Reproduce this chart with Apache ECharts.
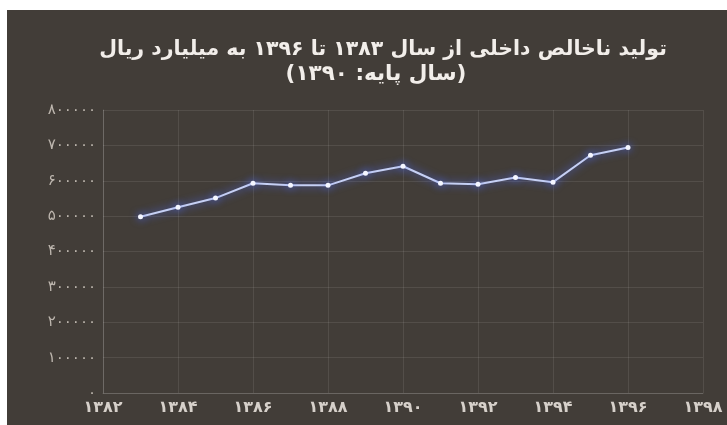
<!DOCTYPE html>
<html><head><meta charset="utf-8">
<script src="https://cdn.jsdelivr.net/npm/echarts@6/dist/echarts.min.js"></script>
<style>
html,body{margin:0;padding:0;background:#ffffff;width:727px;height:425px;overflow:hidden;}
#bg{position:absolute;left:7px;top:10px;width:720px;height:415px;background:#423d38;}
#chart{position:absolute;left:0;top:0;width:727px;height:425px;}
</style>
</head><body>
<div id="bg"></div><div id="chart"></div>
<script>
// Data
const years = [1383, 1384, 1385, 1386, 1387, 1388, 1389, 1390, 1391, 1392, 1393, 1394, 1395, 1396];
const gdp = [498000, 525000, 551000, 593000, 587000, 587000, 621000, 641000, 593000, 590000, 609000, 596000, 672000, 694000];
const xTickValues = [1382, 1384, 1386, 1388, 1390, 1392, 1394, 1396, 1398];
const xTickLabels = ['۱۳۸۲', '۱۳۸۴', '۱۳۸۶', '۱۳۸۸', '۱۳۹۰', '۱۳۹۲', '۱۳۹۴', '۱۳۹۶', '۱۳۹۸'];
const yTickValues = [0, 100000, 200000, 300000, 400000, 500000, 600000, 700000, 800000];
const yTickLabels = ['۰', '۱۰۰۰۰۰', '۲۰۰۰۰۰', '۳۰۰۰۰۰', '۴۰۰۰۰۰', '۵۰۰۰۰۰', '۶۰۰۰۰۰', '۷۰۰۰۰۰', '۸۰۰۰۰۰'];
const titleLine1 = 'تولید ناخالص داخلی از سال ۱۳۸۳ تا ۱۳۹۶ به میلیارد ریال';
const titleLine2 = '(سال پایه: ۱۳۹۰)';

const FONT = 'DejaVu Sans';
const chart = echarts.init(document.getElementById('chart'), null, {renderer: 'canvas'});
chart.setOption({
  backgroundColor: 'transparent',
  animation: false,
  title: [
    {text: titleLine1, left: 378, top: 34, textAlign: 'center',
     textStyle: {color: '#f2eeea', fontSize: 20.5, fontWeight: 'bold', fontFamily: FONT}},
    {text: titleLine2, left: 371, top: 58, textAlign: 'center',
     textStyle: {color: '#f2eeea', fontSize: 21.5, fontWeight: 'bold', fontFamily: FONT}}
  ],
  grid: {left: 103, right: 24, top: 110, bottom: 32, containLabel: false},
  xAxis: {
    type: 'value', min: 1382, max: 1398, interval: 2,
    axisLine: {show: true, lineStyle: {color: 'rgba(255,255,255,0.14)', width: 1}},
    axisTick: {show: false},
    splitLine: {show: true, lineStyle: {color: 'rgba(255,255,255,0.09)', width: 1}},
    axisLabel: {
      color: '#d6d0ca', fontSize: 16, fontWeight: 'bold', fontFamily: FONT, margin: 7,
      formatter: v => { const i = xTickValues.indexOf(v); return i >= 0 ? xTickLabels[i] : ''; }
    }
  },
  yAxis: {
    type: 'value', min: 0, max: 800000, interval: 100000,
    axisLine: {show: true, lineStyle: {color: 'rgba(255,255,255,0.16)', width: 1}},
    axisTick: {show: false},
    splitLine: {show: true, lineStyle: {color: 'rgba(255,255,255,0.09)', width: 1}},
    axisLabel: {
      color: '#bdb6ae', fontSize: 15, fontFamily: FONT, margin: 7,
      formatter: v => { const i = yTickValues.indexOf(v); return i >= 0 ? yTickLabels[i] : ''; }
    }
  },
  series: [{
    type: 'line',
    data: years.map((y, i) => [y, gdp[i]]),
    symbol: 'circle', symbolSize: 5,
    lineStyle: {color: '#c6d0f4', width: 2, shadowColor: 'rgba(80,110,255,0.95)', shadowBlur: 8},
    itemStyle: {color: '#f4f6ff', shadowColor: 'rgba(80,110,255,1)', shadowBlur: 8},
    z: 3
  }]
});
</script>
</body></html>
